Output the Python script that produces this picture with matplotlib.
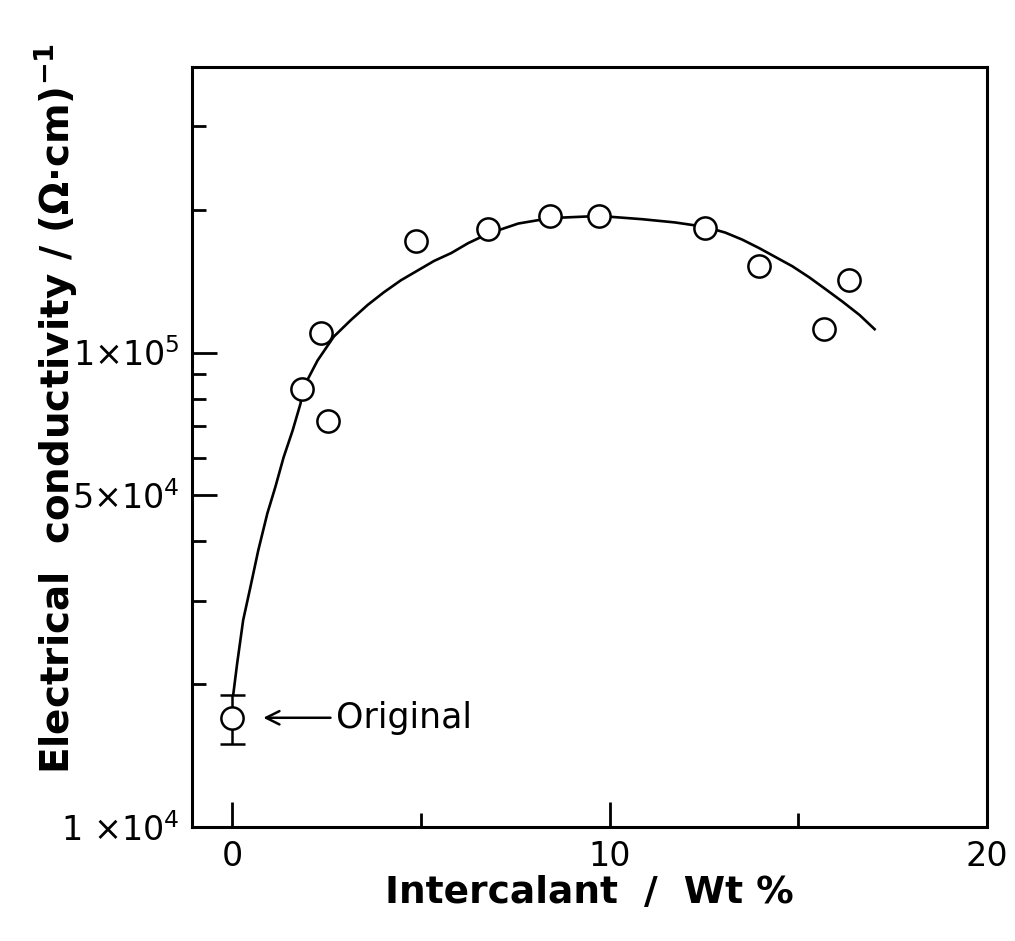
import matplotlib
matplotlib.use("Agg")
import matplotlib.pyplot as plt
from matplotlib.ticker import FixedLocator, NullFormatter

plt.rcParams['font.family'] = ['DejaVu Sans']
plt.rcParams['mathtext.default'] = 'regular'

# measured samples (wt %, conductivity)
wt = [1.86, 2.34, 2.53, 4.87, 6.78, 8.43, 9.73, 12.53, 13.96, 15.69, 16.33]
sigma = [8.36e4, 1.10e5, 7.16e4, 1.72e5, 1.82e5, 1.94e5, 1.94e5, 1.83e5, 1.52e5, 1.12e5, 1.42e5]

# original (un-intercalated) sample with error bar
orig_wt = [0.0]
orig_sigma = [1.70e4]
orig_err_lo = [0.20e4]
orig_err_hi = [0.20e4]

curve_wt = [0.03, 0.13, 0.29, 0.48, 0.69, 0.93, 1.14, 1.36, 1.60, 1.81, 1.86,
            2.26, 2.69, 3.14, 3.59, 4.02, 4.47, 4.92, 5.35, 5.80, 6.25, 6.78,
            7.58, 8.43, 9.73, 10.85, 11.73, 12.53, 13.06, 13.51, 13.96, 14.39,
            14.84, 15.29, 15.72, 16.17, 16.62, 17.02]
curve_sigma = [1.91e4, 2.21e4, 2.73e4, 3.20e4, 3.83e4, 4.58e4, 5.20e4, 6.01e4,
               6.85e4, 7.81e4, 8.36e4, 9.62e4, 1.08e5, 1.17e5, 1.26e5, 1.34e5,
               1.42e5, 1.49e5, 1.56e5, 1.62e5, 1.70e5, 1.78e5, 1.87e5, 1.92e5,
               1.94e5, 1.91e5, 1.88e5, 1.84e5, 1.79e5, 1.73e5, 1.66e5, 1.59e5,
               1.52e5, 1.44e5, 1.36e5, 1.28e5, 1.20e5, 1.12e5]

fig = plt.figure(figsize=(10.15, 9.41), dpi=100)
ax = fig.add_axes([0.189, 0.121, 0.7835, 0.808])

ax.plot(curve_wt, curve_sigma, color='black', lw=1.9, solid_joinstyle='round')
ax.plot(wt, sigma, 'o', ms=16, mfc='white', mec='black', mew=1.8)
ax.errorbar(orig_wt, orig_sigma, yerr=[orig_err_lo, orig_err_hi], fmt='o', ms=16,
            mfc='white', mec='black', mew=1.8, ecolor='black', elinewidth=1.8,
            capsize=9, capthick=1.8)

ax.set_yscale('log')
ax.set_xlim(-1.07, 20.0)
ax.set_ylim(1e4, 4e5)

ax.yaxis.set_major_locator(FixedLocator([1e4, 5e4, 1e5]))
ax.set_yticklabels([r'$1\ {\times}10^{4}$', r'$5{\times}10^{4}$', r'$1{\times}10^{5}$'])
ax.yaxis.set_minor_locator(FixedLocator([2e4, 3e4, 4e4, 6e4, 7e4, 8e4, 9e4, 2e5, 3e5]))
ax.yaxis.set_minor_formatter(NullFormatter())

ax.set_xticks([0, 10, 20])
ax.set_xticks([5, 15], minor=True)

ax.tick_params(which='both', direction='in', width=2, labelsize=24, top=False, right=False)
ax.tick_params(which='major', length=18, pad=9)
ax.tick_params(which='minor', length=10)
for s in ax.spines.values():
    s.set_linewidth(2.2)

ax.set_xlabel('Intercalant  /  Wt %', fontsize=27, fontweight='bold', labelpad=2)
ax.set_ylabel(r'Electrical  conductivity / ($\Omega$·cm)$^{-1}$', fontsize=28,
              fontweight='bold')
ax.yaxis.set_label_coords(-0.142, 0.55)

ax.annotate('Original', xy=(0.75, 1.70e4), xytext=(2.75, 1.70e4), fontsize=25,
            va='center', ha='left',
            arrowprops=dict(arrowstyle='->', color='black', lw=1.8, mutation_scale=24))

fig.savefig('out.png', dpi=100)
